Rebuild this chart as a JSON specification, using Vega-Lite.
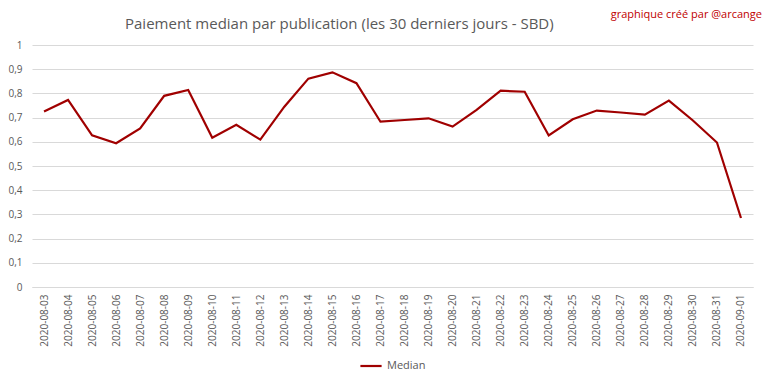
{
  "$schema": "https://vega.github.io/schema/vega-lite/v6.json",
  "width": 721,
  "height": 242,
  "autosize": {"type": "none"},
  "padding": {"left": 32, "top": 45, "right": 15, "bottom": 97},
  "background": "white",
  "config": {
    "font": "Open Sans",
    "view": {"stroke": null},
    "legend": {"layout": {"bottom": {"anchor": "middle"}}}
  },
  "title": {
    "text": "Paiement median par publication (les 30 derniers jours - SBD)",
    "anchor": "start",
    "frame": "group",
    "dx": 93,
    "fontSize": 15,
    "fontWeight": "normal",
    "color": "#595959",
    "font": "Open Sans",
    "offset": -23
  },
  "data": {
    "values": [
      {"date": "2020-08-03", "value": 0.725},
      {"date": "2020-08-04", "value": 0.773},
      {"date": "2020-08-05", "value": 0.627},
      {"date": "2020-08-06", "value": 0.594},
      {"date": "2020-08-07", "value": 0.655},
      {"date": "2020-08-08", "value": 0.790},
      {"date": "2020-08-09", "value": 0.814},
      {"date": "2020-08-10", "value": 0.617},
      {"date": "2020-08-11", "value": 0.670},
      {"date": "2020-08-12", "value": 0.609},
      {"date": "2020-08-13", "value": 0.745},
      {"date": "2020-08-14", "value": 0.861},
      {"date": "2020-08-15", "value": 0.887},
      {"date": "2020-08-16", "value": 0.842},
      {"date": "2020-08-17", "value": 0.683},
      {"date": "2020-08-18", "value": 0.690},
      {"date": "2020-08-19", "value": 0.697},
      {"date": "2020-08-20", "value": 0.663},
      {"date": "2020-08-21", "value": 0.732},
      {"date": "2020-08-22", "value": 0.811},
      {"date": "2020-08-23", "value": 0.807},
      {"date": "2020-08-24", "value": 0.626},
      {"date": "2020-08-25", "value": 0.693},
      {"date": "2020-08-26", "value": 0.729},
      {"date": "2020-08-27", "value": 0.721},
      {"date": "2020-08-28", "value": 0.712},
      {"date": "2020-08-29", "value": 0.770},
      {"date": "2020-08-30", "value": 0.688},
      {"date": "2020-08-31", "value": 0.597},
      {"date": "2020-09-01", "value": 0.285}
    ]
  },
  "layer": [
    {
      "mark": {"type": "line", "strokeWidth": 2.2, "clip": false},
      "encoding": {
        "x": {
          "field": "date",
          "type": "ordinal",
          "scale": {"type": "point", "padding": 0.5},
          "axis": {
            "title": null,
            "labelAngle": -90,
            "labelFontSize": 10,
            "labelColor": "#595959",
            "labelPadding": 7,
            "labelOverlap": false,
            "ticks": false,
            "domainColor": "#d9d9d9",
            "domainWidth": 1,
            "grid": false
          }
        },
        "y": {
          "field": "value",
          "type": "quantitative",
          "scale": {"domain": [0, 1], "nice": false},
          "axis": {
            "title": null,
            "values": [0, 0.1, 0.2, 0.3, 0.4, 0.5, 0.6, 0.7, 0.8, 0.9, 1],
            "labelExpr": "replace(format(datum.value, '.1~f'), '.', ',')",
            "labelFontSize": 10,
            "labelColor": "#595959",
            "labelPadding": 10,
            "labelOverlap": false,
            "ticks": false,
            "domain": false,
            "gridColor": "#d9d9d9",
            "gridWidth": 1
          }
        },
        "color": {
          "datum": "Median",
          "scale": {"range": ["#a00000"]},
          "legend": {
            "title": null,
            "orient": "bottom",
            "direction": "horizontal",
            "symbolType": "stroke",
            "symbolStrokeWidth": 2.2,
            "symbolSize": 450,
            "labelFontSize": 11,
            "labelColor": "#595959",
            "offset": 7
          }
        }
      }
    },
    {
      "data": {"values": [{"credit": "graphique créé par @arcange", "date": "2020-09-01", "pos": 1.125}]},
      "mark": {
        "type": "text",
        "align": "right",
        "baseline": "middle",
        "fontSize": 11,
        "fontWeight": "normal",
        "color": "#c00000",
        "dx": 21,
        "clip": false
      },
      "encoding": {
        "x": {
          "field": "date",
          "type": "ordinal",
          "axis": {
            "title": null,
            "labelAngle": -90,
            "labelFontSize": 10,
            "labelColor": "#595959",
            "labelPadding": 7,
            "labelOverlap": false,
            "ticks": false,
            "domainColor": "#d9d9d9",
            "domainWidth": 1,
            "grid": false
          }
        },
        "y": {
          "field": "pos",
          "type": "quantitative",
          "axis": {
            "title": null,
            "values": [0, 0.1, 0.2, 0.3, 0.4, 0.5, 0.6, 0.7, 0.8, 0.9, 1],
            "labelExpr": "replace(format(datum.value, '.1~f'), '.', ',')",
            "labelFontSize": 10,
            "labelColor": "#595959",
            "labelPadding": 10,
            "labelOverlap": false,
            "ticks": false,
            "domain": false,
            "gridColor": "#d9d9d9",
            "gridWidth": 1
          }
        },
        "text": {"field": "credit"}
      }
    }
  ]
}
